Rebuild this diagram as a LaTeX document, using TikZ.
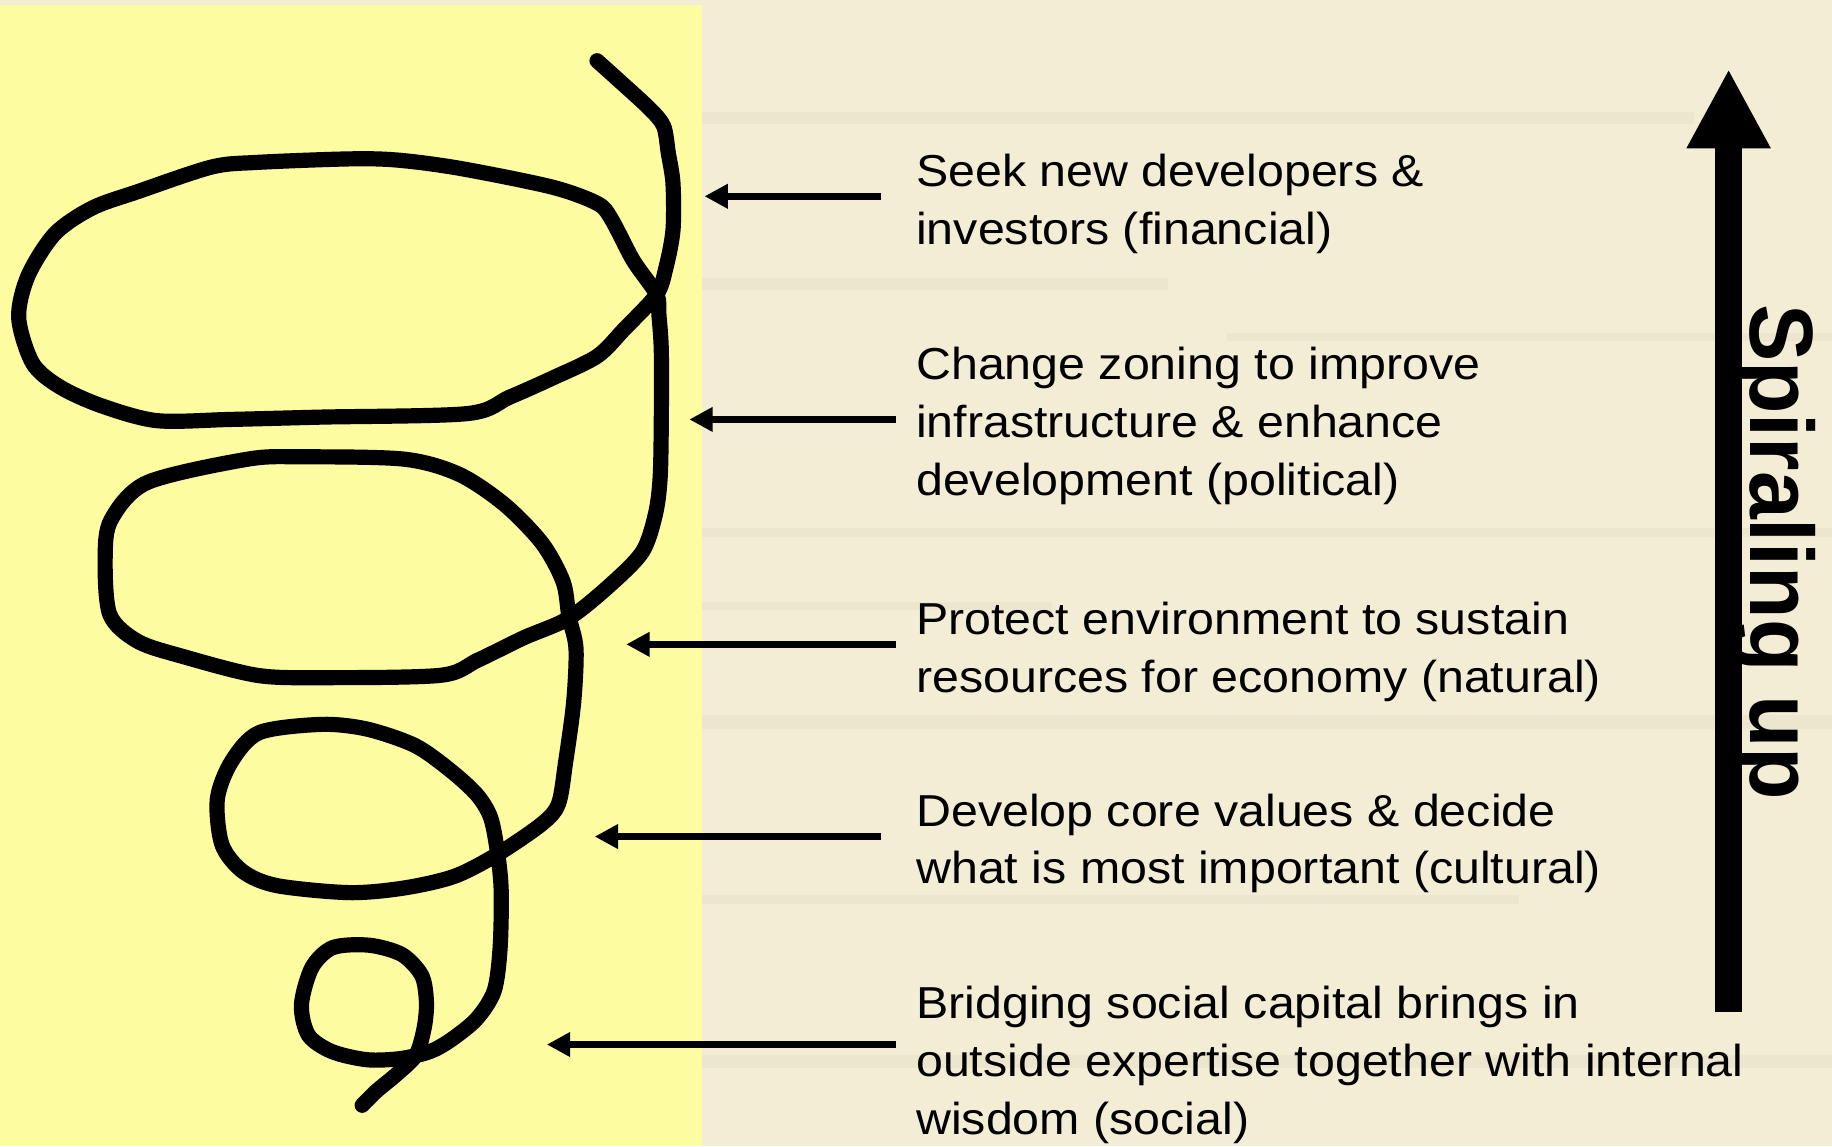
\documentclass[tikz,border=0pt]{standalone}
\usepackage{fontspec}
\newfontfamily\bodyfont{Liberation Sans}[FakeStretch=1.08]
\newfontfamily\headfont{Liberation Sans}[FakeStretch=0.955]
\usetikzlibrary{arrows.meta}
\definecolor{paper}{RGB}{243,237,214}
\definecolor{streak}{RGB}{226,219,192}
\definecolor{note}{RGB}{253,252,160}
\begin{document}
\begin{tikzpicture}[x=1pt,y=-1pt,
  labeltext/.style={font=\bodyfont\fontsize{38.3}{49.5}\selectfont, anchor=base west, inner sep=0pt, text=black},
  pointer/.style={line width=6pt, -{Triangle[length=20pt,width=20pt]}},
  spiralline/.style={line width=13pt, line cap=round, line join=round},
  streakband/.style={fill=streak, opacity=0.35},
]
\useasboundingbox (0,0) rectangle (1568,981);
% background paper and faint streaks
\fill[paper] (0,0) rectangle (1568,981);
\fill[streakband] (601,96) rectangle (1450,106);
\fill[streakband] (601,238) rectangle (1000,248);
\fill[streakband] (1050,285) rectangle (1568,292);
\fill[streakband] (601,452) rectangle (1568,460);
\fill[streakband] (601,515) rectangle (900,522);
\fill[streakband] (601,612) rectangle (1568,624);
\fill[streakband] (601,766) rectangle (1300,774);
\fill[streakband] (601,903) rectangle (1568,914);
% yellow note panel
\fill[note] (0,4) rectangle (601,981);

% spiral
\draw[spiralline] plot[smooth, tension=0.5] coordinates {
 (310,946) (322,934) (340,919) (356,903) (363,880) (365,858) (361,835) (344,817)
 (316,809) (285,811) (267,828) (258,860) (264,886) (284,900) (314,907) (343,906)
 (368,900) (386,890) (408,872) (423,848) (428,812) (429,763) (426,731)
 (420,700) (408,680) (385,659) (355,638) (314,624) (275,620) (222,627) (198,652)
 (186,684) (190,723) (208,746) (237,758) (299,764) (346,760) (389,750) (426,731)
 (464,705) (478,688) (484,653) (491,601) (493,555) (487,528)
 (482,498) (464,465) (432,432) (393,406) (346,393) (259,391) (212,393) (126,413)
 (95,445) (90,478) (94,526) (118,549) (157,562) (220,578) (275,580) (377,578)
 (409,565) (448,546) (487,529)
 (523,500) (550,472) (561,440) (565,409) (566,360) (566,300) (564,270) (562,252)
 (542,223) (523,187) (511,174) (472,160) (393,144) (340,137) (299,136) (220,139)
 (181,143) (118,164) (79,178) (47,200) (24,236) (16,272) (28,311) (51,331)
 (86,347) (134,360) (197,359) (275,357) (400,354) (436,340) (472,324) (511,305)
 (534,282) (562,252)
 (570,229) (576,197) (576,157) (572,131) (568,108) (556,93) (531,70) (511,52)
};

% texts
\node[labeltext] (t1a) at (784,160) {Seek new developers \&};
\node[labeltext] (t1b) at (784,209.5) {investors (financial)};
\node[labeltext] (t2a) at (784,325) {Change zoning to improve};
\node[labeltext] (t2b) at (784,374.5) {infrastructure \& enhance};
\node[labeltext] (t2c) at (784,424) {development (political)};
\node[labeltext] (t3a) at (784,543) {Protect environment to sustain};
\node[labeltext] (t3b) at (784,592.5) {resources for economy (natural)};
\node[labeltext] (t4a) at (784,707) {Develop core values \& decide};
\node[labeltext] (t4b) at (784,756.5) {what is most important (cultural)};
\node[labeltext] (t5a) at (784,872) {Bridging social capital brings in};
\node[labeltext] (t5b) at (784,921.5) {outside expertise together with internal};
\node[labeltext] (t5c) at (784,971) {wisdom (social)};

% pointer arrows
\coordinate (p1) at (754,168);   \coordinate (q1) at (603,168);
\coordinate (p2) at (767,359);   \coordinate (q2) at (590,359);
\coordinate (p3) at (767,551.5); \coordinate (q3) at (536,551.5);
\coordinate (p4) at (754,716);   \coordinate (q4) at (509,716);
\coordinate (p5) at (767,894);   \coordinate (q5) at (468,894);
\draw[pointer] (p1) -- (q1);
\draw[pointer] (p2) -- (q2);
\draw[pointer] (p3) -- (q3);
\draw[pointer] (p4) -- (q4);
\draw[pointer] (p5) -- (q5);

% big upward arrow with label
\coordinate (upbase) at (1479.5,866);
\coordinate (uptip) at (1479.5,59);
\draw[line width=23pt, -{Triangle[length=68pt,width=67pt]}] (upbase) -- (uptip);
\node[rotate=-90, anchor=base west, inner sep=0pt,
      font=\headfont\bfseries\fontsize{77}{80}\selectfont] (uplabel) at (1498,260) {Spiraling up};
\end{tikzpicture}
\end{document}
